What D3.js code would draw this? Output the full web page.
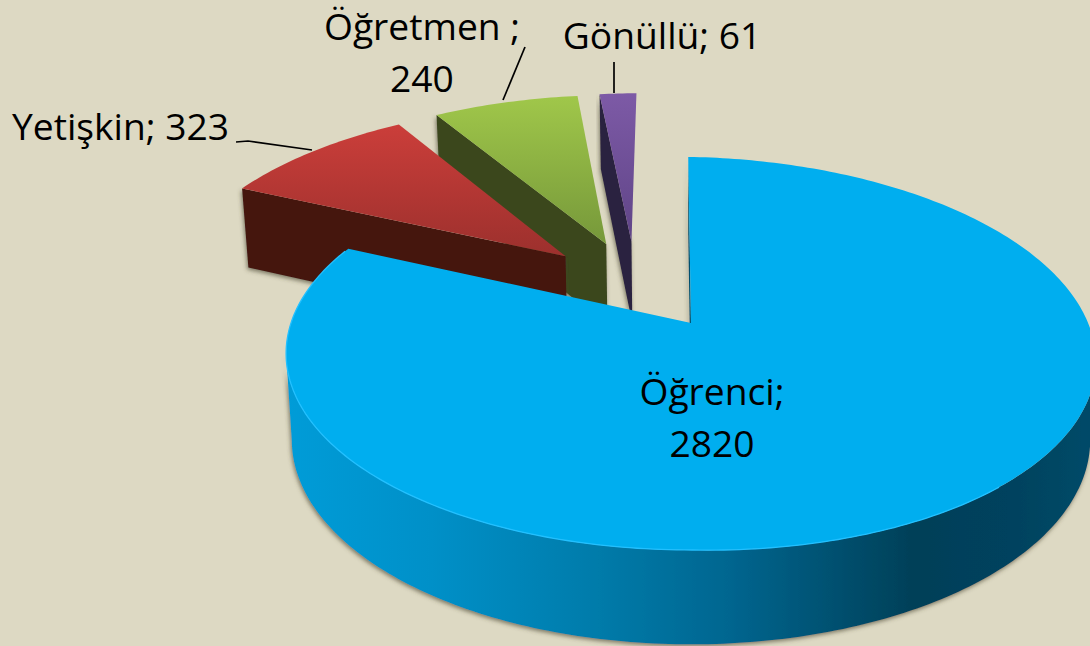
<!DOCTYPE html>
<html><head><meta charset="utf-8">
<script src="https://cdn.jsdelivr.net/npm/d3@7"></script>
<style>html,body{margin:0;padding:0;background:#DDD9C3;overflow:hidden}svg{display:block}text{font-family:"Open Sans",sans-serif;fill:#000}</style>
</head><body><svg id="c" width="1090" height="646"></svg>
<script>
const categories = ["Öğrenci","Yetişkin","Öğretmen","Gönüllü"];
const values = [2820,323,240,61];
const topColors = [["#00AEEF","#00AEEF"],["#CB3E3A","#9C302D"],["#A0C74A","#76983A"],["#7D5AA6","#5F4487"]];
const wallColors = [null,"#451211","#3A461B","#2B2040"];
const labelLines = [[["Öğrenci;","2820"]],[["Yetişkin; 323"]],[["Öğretmen ;","240"]],[["Gönüllü; 61"]]];

const W=1090,H=646;
const svg=d3.select("#c");
const defs=svg.append("defs");
const ox=691, oy=323, Rx=400, Ry=191.8, persp=0.155, depth=85, shrink=0.986, explode=0.25, smallR=1.018, roll=0.02;
const toScreenX=d3.scaleLinear().domain([0,1]).range([ox,ox+Rx]);
const toScreenY=d3.scaleLinear().domain([0,1]).range([oy,oy+Ry]);
const fs=37.2;

const pie=d3.pie().sort(null).value(d=>d).startAngle(-0.008).endAngle(2*Math.PI-0.008);
const arcs=pie(values);
const blueMid=(arcs[0].startAngle+arcs[0].endAngle)/2;
const cu=-explode*Math.sin(blueMid), cv=explode*Math.cos(blueMid);

function groundPoint(a,th,r){
  const mid=(a.startAngle+a.endAngle)/2;
  const du=a.index?-0.007:0, dv=a.index?0.006:0;
  return [cu+du+explode*Math.sin(mid)+r*Math.sin(th), cv+dv-explode*Math.cos(mid)-r*Math.cos(th)];
}
function project(g,lower){
  const s=1/(1-persp*g[1]);
  const k=lower?shrink:1;
  const X=ox+(toScreenX(g[0]*s)-ox)*k;
  const Y=toScreenY(g[1]*s)+(lower?depth*Math.pow(s,0.62):roll*Math.max(0,X-ox));
  return [X,Y];
}
const line=d3.line();
function rim(a){
  const n=Math.max(8,Math.ceil((a.endAngle-a.startAngle)*60));
  return d3.range(n+1).map(i=>a.startAngle+(a.endAngle-a.startAngle)*i/n);
}

// gradients
const flt=defs.append("filter").attr("id","sh").attr("x","-10%").attr("y","-10%").attr("width","120%").attr("height","120%");
flt.append("feDropShadow").attr("dx",-1).attr("dy",2).attr("stdDeviation",2.2).attr("flood-color","#4a4433").attr("flood-opacity",0.65);
topColors.forEach((c,i)=>{
  const R=i?smallR:1;
  const ys=rim(arcs[i]).map(t=>project(groundPoint(arcs[i],t,R))[1]);
  const g=defs.append("linearGradient").attr("id","top"+i).attr("gradientUnits","userSpaceOnUse")
    .attr("x1",0).attr("x2",0).attr("y1",d3.min(ys)).attr("y2",project(groundPoint(arcs[i],0,0))[1]);
  g.append("stop").attr("offset",0).attr("stop-color",c[0]);
  g.append("stop").attr("offset",1).attr("stop-color",c[1]);
});
const bw=defs.append("linearGradient").attr("id","blueWall").attr("gradientUnits","userSpaceOnUse")
  .attr("x1",286).attr("x2",1090).attr("y1",0).attr("y2",0);
[[0,"#009CD8"],[0.18,"#0090C8"],[0.38,"#007CAB"],[0.55,"#006690"],[0.78,"#004058"],[0.9,"#00425E"],[1,"#004A68"]]
  .forEach(s=>bw.append("stop").attr("offset",s[0]).attr("stop-color",s[1]));

// far slices first, blue last
[3,2,1,0].forEach(i=>{
  const a=arcs[i], g=svg.append("g").attr("class","slice");
  const R=i?smallR:1;
  const ths=rim(a);
  const topPts=ths.map(t=>project(groundPoint(a,t,R)));
  const botPts=ths.map(t=>project(groundPoint(a,t,R),true));
  const apexT=project(groundPoint(a,a.startAngle,0));
  const apexB=project(groundPoint(a,a.startAngle,0),true);
  const shadow=g.append("g").attr("filter","url(#sh)");
  const radA=line([topPts[0],botPts[0],apexB,apexT])+"Z";
  if(i===0){
    // only the viewer-facing part of the outer wall, between the two silhouette points
    const iR=d3.greatestIndex(topPts,p=>p[0]), iL=d3.leastIndex(topPts,p=>p[0]);
    const fT=topPts.slice(iR,iL+1), fB=botPts.slice(iR,iL+1);
    shadow.append("path").attr("d",radA).attr("fill","#00506E");
    shadow.append("path").attr("d",line(fT.concat(fB.slice().reverse()))+"Z").attr("fill","url(#blueWall)");
  } else {
    shadow.append("path").attr("d",radA).attr("fill",wallColors[i]);
  }
  g.append("path").attr("d",line([apexT].concat(topPts))+"Z").attr("fill","url(#top"+i+")");
  if(i===0){
    g.append("path").attr("d",line(topPts.filter(p=>p[1]>250&&p[0]<1000))).attr("fill","none")
      .attr("stroke","#22C0FF").attr("stroke-width",1.3);
  }
});

// leader lines
const leaders=[[[236,142],[248,141],[312,150]],[[525,47],[503,100]],[[614,62],[614,93]]];
leaders.forEach(l=>svg.append("path").attr("d",line(l)).attr("fill","none").attr("stroke","#000").attr("stroke-width",1.7));

// labels
const labelPos=[[712,405,"middle"],[12,140,"start"],[422,40,"middle"],[662,49,"middle"]];
categories.forEach((c,i)=>{
  const t=svg.append("text").attr("x",labelPos[i][0]).attr("y",labelPos[i][1]).attr("text-anchor",labelPos[i][2]).attr("font-size",fs);
  labelLines[i][0].forEach((s,j)=>t.append("tspan").attr("x",labelPos[i][0]).attr("dy",j?52:0).text(s));
});
</script></body></html>
